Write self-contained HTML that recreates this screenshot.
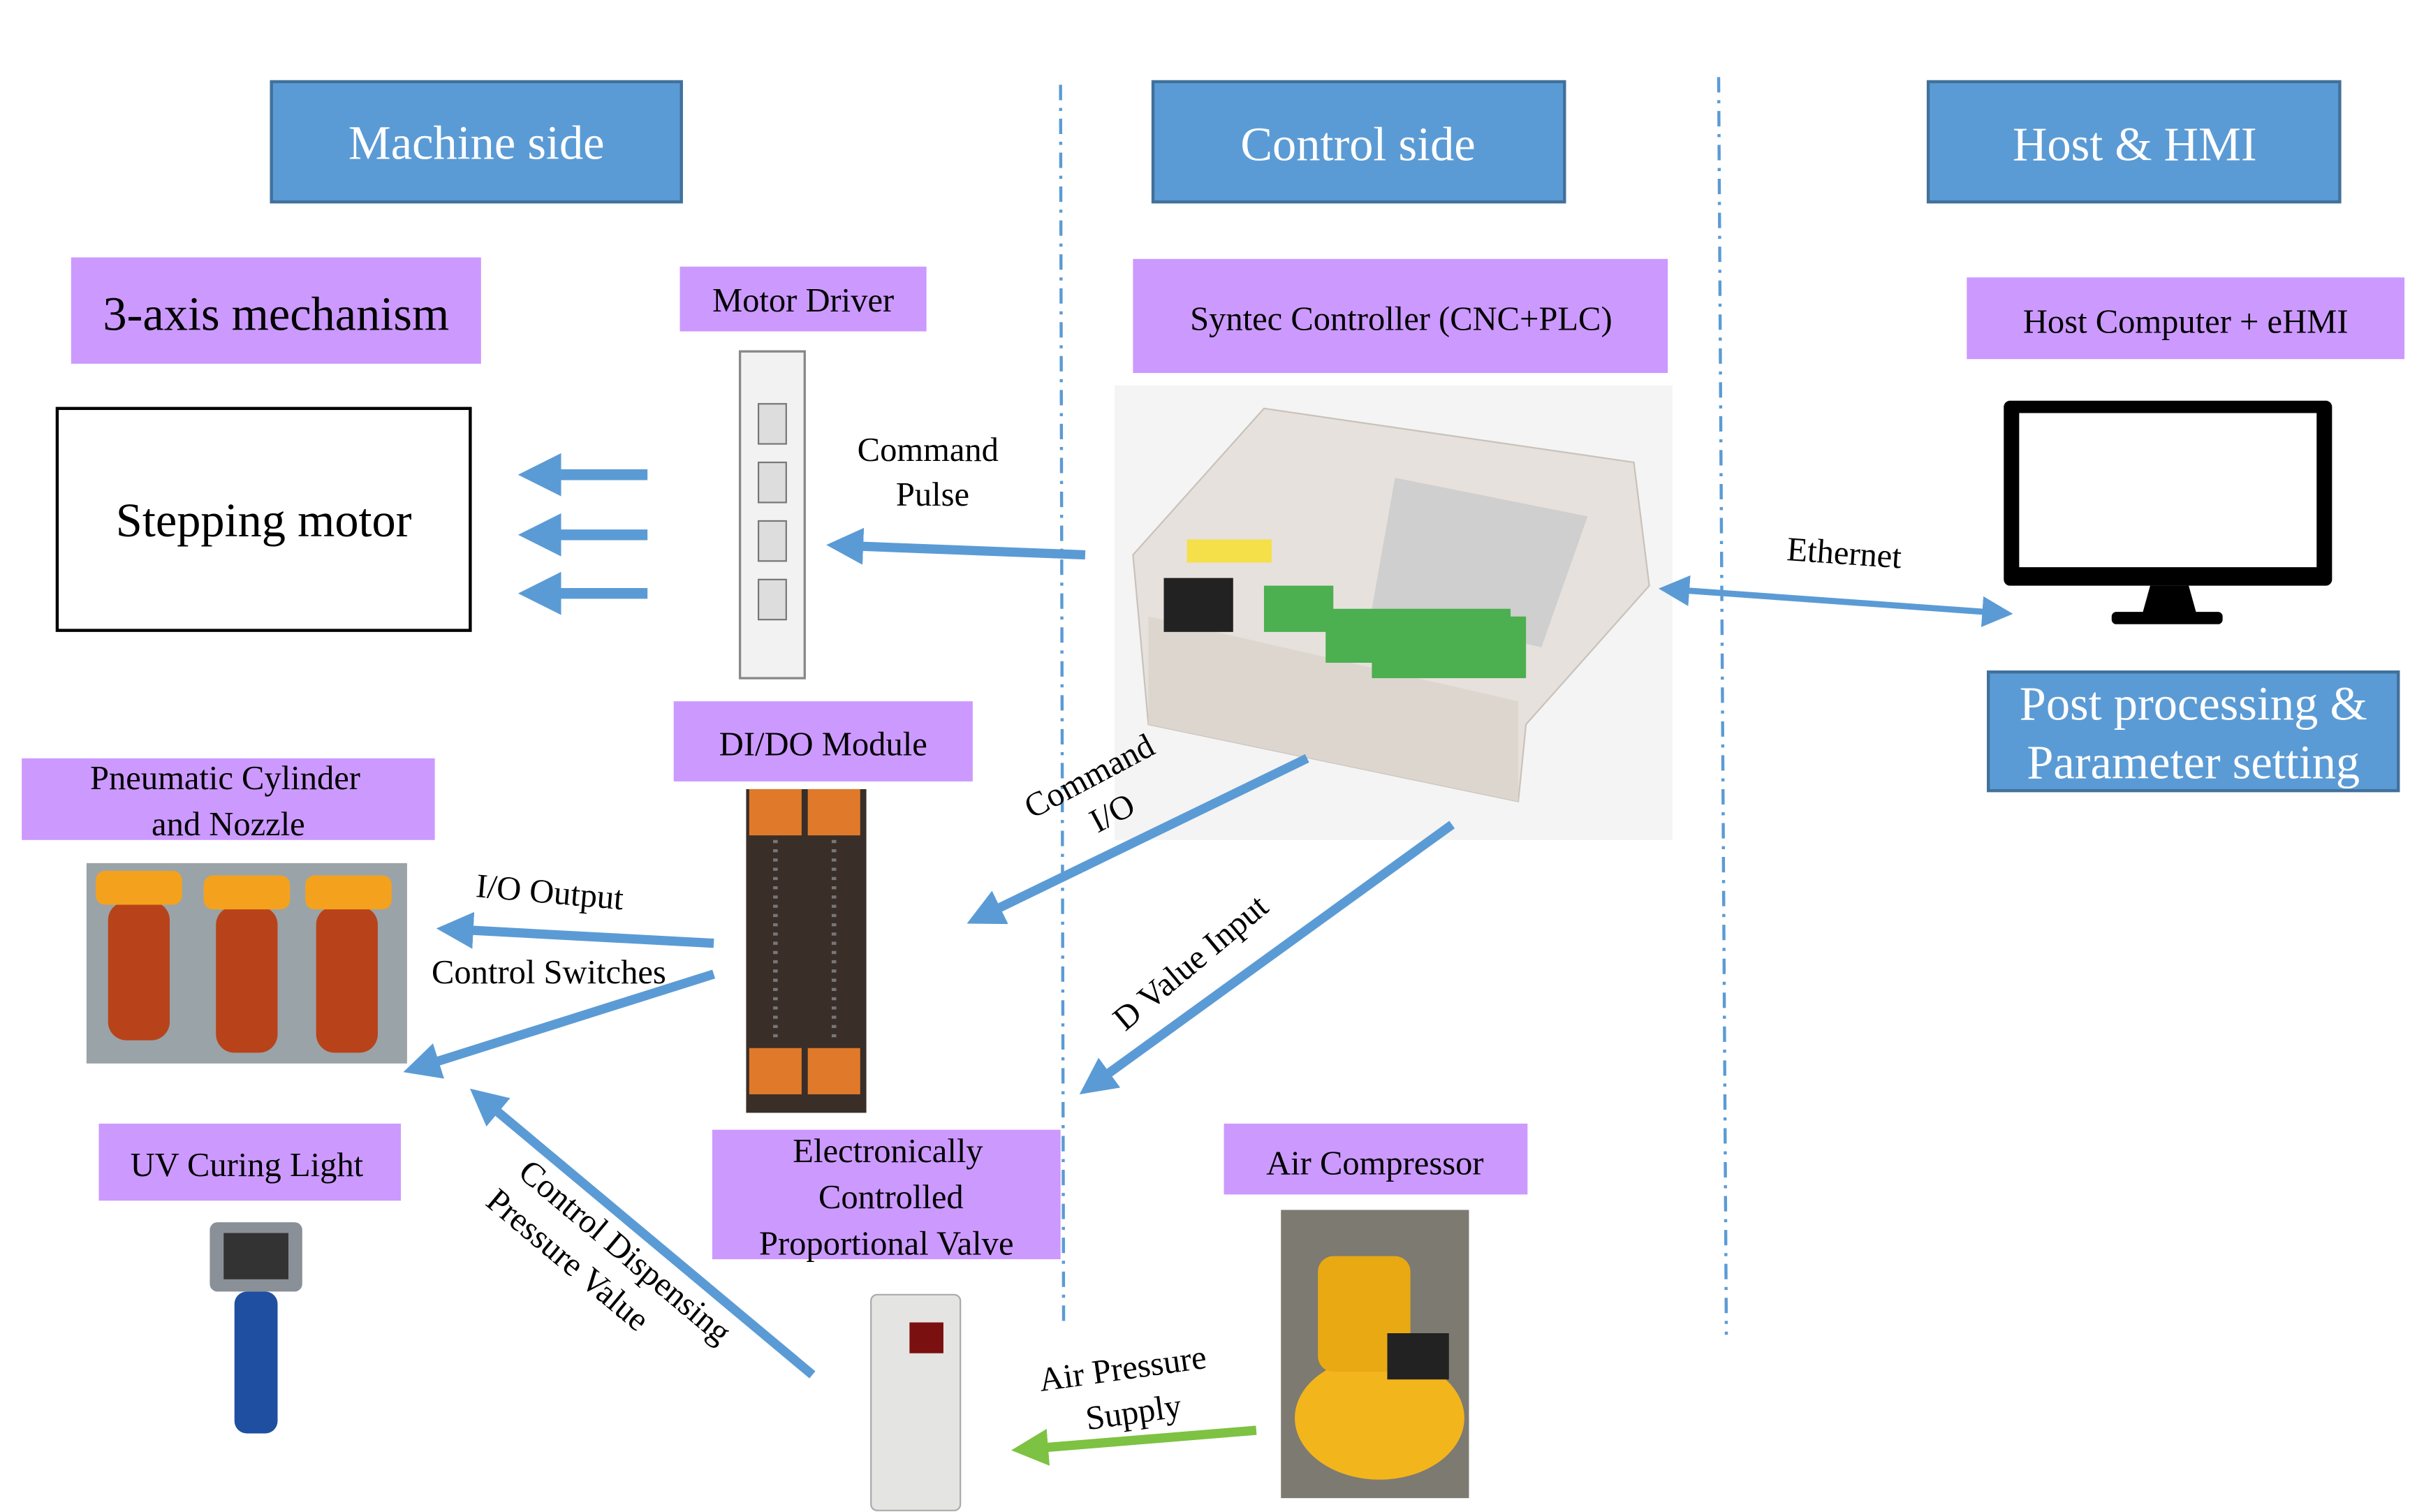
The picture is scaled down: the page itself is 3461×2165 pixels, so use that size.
<!DOCTYPE html>
<html><head><meta charset="utf-8"><style>
html,body{margin:0;padding:0;background:#fff;}
svg{display:block;font-family:"Liberation Serif","Times New Roman",serif;}
svg text{font-family:"Liberation Serif","Times New Roman",serif;}
</style></head><body>
<svg width="3461" height="2165" viewBox="0 0 1568 981" xmlns="http://www.w3.org/2000/svg" font-family="Liberation Serif, serif">
<defs>
<marker id="ab" markerWidth="4" markerHeight="4" refX="2" refY="2" orient="auto" markerUnits="strokeWidth"><path d="M0,0 L4,2 L0,4 Z" fill="#5b9bd5"/></marker>
<marker id="ag" markerWidth="4" markerHeight="4" refX="2" refY="2" orient="auto" markerUnits="strokeWidth"><path d="M0,0 L4,2 L0,4 Z" fill="#7dc242"/></marker>
<marker id="as" markerWidth="5" markerHeight="5" refX="4" refY="2.5" orient="auto" markerUnits="strokeWidth"><path d="M0,0 L5,2.5 L0,5 Z" fill="#5b9bd5"/></marker>
<marker id="ae" markerWidth="5" markerHeight="5" refX="1" refY="2.5" orient="auto-start-reverse" markerUnits="strokeWidth"><path d="M0,0 L5,2.5 L0,5 Z" fill="#5b9bd5"/></marker>
</defs>
<rect width="1568" height="981" fill="#fff"/>
<line x1="688" y1="55" x2="690" y2="862" stroke="#5b9bd5" stroke-width="2" stroke-dasharray="10,5,2,5"/>
<line x1="1115" y1="50" x2="1120" y2="866" stroke="#5b9bd5" stroke-width="2" stroke-dasharray="10,5,2,5"/>
<g fill="#5b9bd5" stroke="#41719c" stroke-width="2">
<rect x="176" y="53" width="266" height="78"/><rect x="748" y="53" width="267" height="78"/><rect x="1251" y="53" width="267" height="78"/>
<rect x="1290" y="436" width="266" height="77"/>
</g>
<g fill="#fff" font-size="31" text-anchor="middle">
<text x="309" y="103">Machine side</text><text x="881" y="104">Control side</text><text x="1385" y="104">Host &amp; HMI</text>
<text x="1423" y="467">Post processing &amp;</text><text x="1423" y="505">Parameter setting</text>
</g>
<g fill="#cc99ff">
<rect x="46" y="167" width="266" height="69"/><rect x="441" y="173" width="160" height="42"/>
<rect x="735" y="168" width="347" height="74"/><rect x="1276" y="180" width="284" height="53"/>
<rect x="437" y="455" width="194" height="52"/><rect x="14" y="492" width="268" height="53"/>
<rect x="64" y="729" width="196" height="50"/><rect x="462" y="733" width="226" height="84"/>
<rect x="794" y="729" width="197" height="46"/>
</g>
<g fill="#000" text-anchor="middle" font-size="22">
<text x="179" y="214" font-size="31">3-axis mechanism</text>
<text x="521" y="202">Motor Driver</text>
<text x="909" y="214">Syntec Controller (CNC+PLC)</text>
<text x="1418" y="216">Host Computer + eHMI</text>
<text x="534" y="490">DI/DO Module</text>
<text x="146" y="512">Pneumatic Cylinder</text><text x="148" y="542">and Nozzle</text>
<text x="160" y="763">UV Curing Light</text>
<text x="576" y="754">Electronically</text><text x="578" y="784">Controlled</text><text x="575" y="814">Proportional Valve</text>
<text x="892" y="762">Air Compressor</text>
</g>
<rect x="37" y="265" width="268" height="144" fill="#fff" stroke="#000" stroke-width="2"/>
<text x="171" y="348" font-size="31" text-anchor="middle">Stepping motor</text>
<g stroke="#5b9bd5" stroke-width="7" marker-end="url(#ab)">
<line x1="420" y1="308" x2="350" y2="308"/><line x1="420" y1="347" x2="350" y2="347"/><line x1="420" y1="385" x2="350" y2="385"/>
</g>
<rect x="480" y="228" width="42" height="212" fill="#f2f2f2" stroke="#888" stroke-width="1.5"/>
<g fill="#ddd" stroke="#777"><rect x="492" y="262" width="18" height="26"/><rect x="492" y="300" width="18" height="26"/><rect x="492" y="338" width="18" height="26"/><rect x="492" y="376" width="18" height="26"/></g>
<line x1="704" y1="360" x2="548" y2="354" stroke="#5b9bd5" stroke-width="6" marker-end="url(#ab)"/>
<g font-size="22" text-anchor="middle"><text x="602" y="299">Command</text><text x="605" y="328">Pulse</text></g>
<rect x="723" y="250" width="362" height="295" fill="#f4f4f4"/>
<polygon points="735,360 820,265 1060,300 1070,380 990,470 985,520 745,470" fill="#e6e1dc" stroke="#c9c2bb"/>
<polygon points="745,400 985,455 985,520 745,470" fill="#ddd6cf"/>
<polygon points="905,310 1030,335 1000,420 890,395" fill="#cfcfcf"/>
<rect x="755" y="375" width="45" height="35" fill="#222"/>
<g fill="#4caf50"><rect x="820" y="380" width="45" height="30"/><rect x="860" y="395" width="120" height="35"/><rect x="890" y="400" width="100" height="40"/></g>
<rect x="770" y="350" width="55" height="15" fill="#f5e04a"/>
<line x1="1092" y1="383" x2="1302" y2="398" stroke="#5b9bd5" stroke-width="4" marker-start="url(#ae)" marker-end="url(#as)"/>
<text x="1196" y="366" font-size="22" text-anchor="middle" transform="rotate(4 1196 366)">Ethernet</text>
<rect x="1300" y="260" width="213" height="120" rx="4" fill="#000"/>
<rect x="1310" y="268" width="193" height="100" fill="#fff"/>
<polygon points="1395,380 1420,380 1425,398 1390,398" fill="#000"/>
<rect x="1370" y="397" width="72" height="8" rx="3" fill="#000"/>
<line x1="848" y1="492" x2="638" y2="594" stroke="#5b9bd5" stroke-width="6" marker-end="url(#ab)"/>
<g font-size="22" text-anchor="middle" transform="rotate(-28 710 510)"><text x="710" y="510">Command</text><text x="712" y="538">I/O</text></g>
<line x1="942" y1="535" x2="710" y2="703" stroke="#5b9bd5" stroke-width="6" marker-end="url(#ab)"/>
<text x="777" y="630" font-size="22" text-anchor="middle" transform="rotate(-40 777 630)">D Value Input</text>
<rect x="484" y="512" width="78" height="210" fill="#3a2e28"/>
<rect x="486" y="512" width="34" height="30" fill="#e07a2a"/><rect x="524" y="512" width="34" height="30" fill="#e07a2a"/>
<rect x="486" y="680" width="34" height="30" fill="#e07a2a"/><rect x="524" y="680" width="34" height="30" fill="#e07a2a"/>
<line x1="503" y1="545" x2="503" y2="675" stroke="#777" stroke-width="3" stroke-dasharray="2,4"/>
<line x1="541" y1="545" x2="541" y2="675" stroke="#777" stroke-width="3" stroke-dasharray="2,4"/>
<line x1="463" y1="612" x2="295" y2="603" stroke="#5b9bd5" stroke-width="6" marker-end="url(#ab)"/>
<line x1="463" y1="632" x2="273" y2="692" stroke="#5b9bd5" stroke-width="6" marker-end="url(#ab)"/>
<text x="356" y="586" font-size="22" text-anchor="middle" transform="rotate(5 356 586)">I/O Output</text>
<text x="356" y="638" font-size="22" text-anchor="middle">Control Switches</text>
<rect x="56" y="560" width="208" height="130" fill="#9aa3a8"/>
<g fill="#b8431a"><rect x="70" y="585" width="40" height="90" rx="12"/><rect x="140" y="588" width="40" height="95" rx="12"/><rect x="205" y="588" width="40" height="95" rx="12"/></g>
<g fill="#f4a21d"><rect x="62" y="565" width="56" height="22" rx="6"/><rect x="132" y="568" width="56" height="22" rx="6"/><rect x="198" y="568" width="56" height="22" rx="6"/></g>
<line x1="527" y1="892" x2="314" y2="714" stroke="#5b9bd5" stroke-width="6" marker-end="url(#ab)"/>
<g font-size="22" text-anchor="middle" transform="rotate(40 390 815)"><text x="400" y="810">Control Dispensing</text><text x="375" y="838">Pressure Value</text></g>
<rect x="136" y="793" width="60" height="45" rx="5" fill="#8a9097"/>
<rect x="145" y="800" width="42" height="30" fill="#333"/>
<rect x="152" y="838" width="28" height="92" rx="8" fill="#1f4fa0"/>
<rect x="565" y="840" width="58" height="140" rx="4" fill="#e4e4e2" stroke="#aaa"/>
<rect x="590" y="858" width="22" height="20" fill="#7a1010"/>
<line x1="815" y1="928" x2="668" y2="940" stroke="#7dc242" stroke-width="6" marker-end="url(#ag)"/>
<g font-size="22" text-anchor="middle" transform="rotate(-8 730 900)"><text x="730" y="895">Air Pressure</text><text x="733" y="924">Supply</text></g>
<rect x="831" y="785" width="122" height="187" fill="#7d7a72"/>
<ellipse cx="895" cy="920" rx="55" ry="40" fill="#f2b51c"/>
<rect x="855" y="815" width="60" height="75" rx="10" fill="#e9a913"/>
<rect x="900" y="865" width="40" height="30" fill="#222"/>
</svg>
</body></html>
